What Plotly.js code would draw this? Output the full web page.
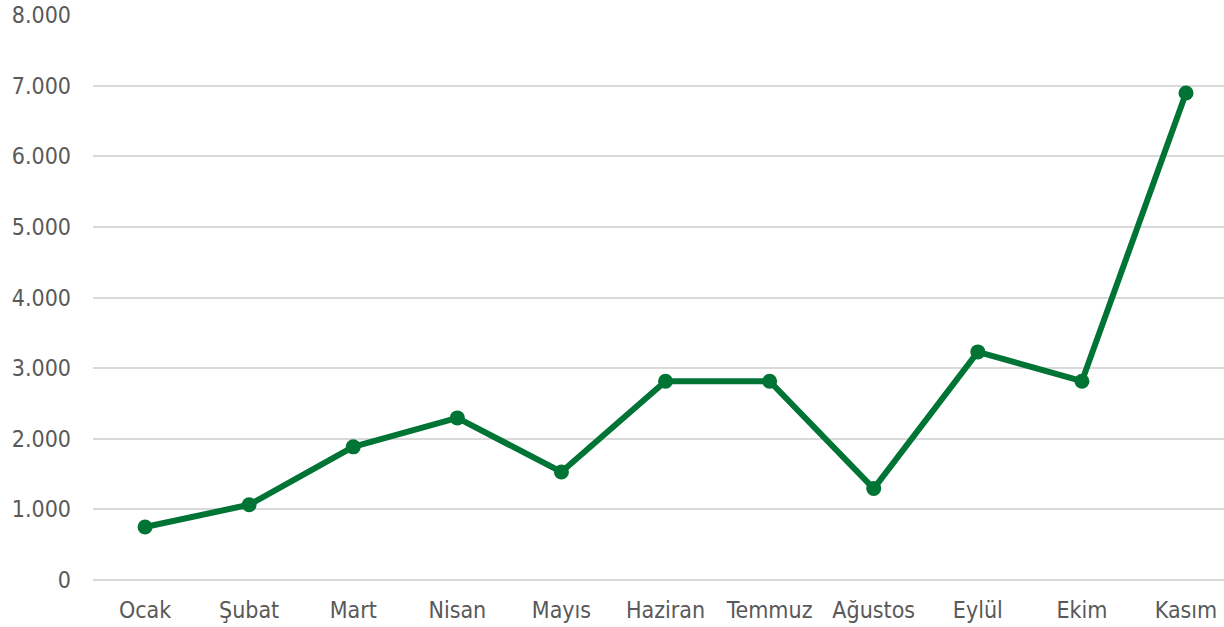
<!DOCTYPE html>
<html>
<head>
<meta charset="utf-8">
<script src="https://cdn.plot.ly/plotly-3.0.1.min.js"></script>
<style>html,body{margin:0;padding:0;background:#fff;}#chart{width:1224px;height:627px;}</style>
</head>
<body>
<div id="chart"></div>
<script>
const months = ["Ocak", "Şubat", "Mart", "Nisan", "Mayıs", "Haziran", "Temmuz", "Ağustos", "Eylül", "Ekim", "Kasım"];
const values = [750, 1065, 1885, 2295, 1530, 2815, 2815, 1295, 3230, 2815, 6895];
const yTicks = [0, 1000, 2000, 3000, 4000, 5000, 6000, 7000, 8000];

const trace = {
  x: months,
  y: values,
  type: "scatter",
  mode: "lines+markers",
  line: {color: "#007434", width: 6},
  marker: {color: "#007434", size: 15},
  hoverinfo: "x+y"
};

const layout = {
  width: 1224,
  height: 627,
  margin: {l: 93, r: 0, t: 15, b: 47},
  paper_bgcolor: "#ffffff",
  plot_bgcolor: "#ffffff",
  separators: ",.",
  showlegend: false,
  font: {family: "DejaVu Sans Condensed, DejaVu Sans, sans-serif", size: 23, color: "#595959"},
  xaxis: {
    type: "category",
    range: [-0.5, 10.365],
    showgrid: false,
    zeroline: false,
    showline: false,
    ticks: "",
    ticklabelstandoff: 14,
    tickfont: {size: 23, color: "#595959"}
  },
  yaxis: {
    range: [0, 8000],
    tickvals: yTicks,
    tickformat: ",d",
    showgrid: true,
    gridcolor: "#d9d9d9",
    gridwidth: 2,
    zeroline: true,
    zerolinecolor: "#d9d9d9",
    zerolinewidth: 2,
    showline: false,
    ticks: "",
    ticklabelstandoff: 21,
    tickfont: {size: 23, color: "#595959"}
  }
};

Plotly.newPlot("chart", [trace], layout, {displayModeBar: false, staticPlot: true});
</script>
</body>
</html>
